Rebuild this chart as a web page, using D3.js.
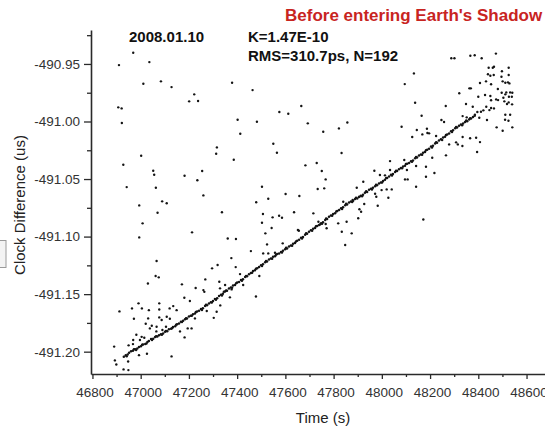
<!DOCTYPE html>
<html><head><meta charset="utf-8">
<script src="https://cdn.jsdelivr.net/npm/d3@7"></script>
<style>body{margin:0;background:#fff}svg{display:block}</style>
</head><body>
<svg id="c" width="545" height="427"></svg>
<script>
const titleText = "Before entering Earth's Shadow";
const dateText = "2008.01.10";
const kText = "K=1.47E-10";
const rmsText = "RMS=310.7ps, N=192";
const xLabel = "Time (s)";
const yLabel = "Clock Difference (us)";

const xTickValues = [46800,47000,47200,47400,47600,47800,48000,48200,48400,48600];
const xMinorValues = [46900,47100,47300,47500,47700,47900,48100,48300,48500,48700];
const yTickValues = [-491.20,-491.15,-491.10,-491.05,-491.00,-490.95];
const yMinorValues = [-491.175,-491.125,-491.075,-491.025,-490.975,-490.925];

// points lying on the dense drift line [time s, clock difference us]
const lineCluster = [
[46930,-491.2045],[46938,-491.2030],[46946,-491.2024],[46952,-491.2010],
[46960,-491.1997],[46968,-491.1993],[46977,-491.1979],[46986,-491.1972],[46993,-491.1960],
[47001,-491.1953],[47010,-491.1937],[47019,-491.1934],[47028,-491.1915],[47034,-491.1908],
[47043,-491.1890],[47052,-491.1887],[47060,-491.1873],[47069,-491.1868],[47076,-491.1857],
[47084,-491.1849],[47093,-491.1843],[47101,-491.1826],[47110,-491.1822],[47117,-491.1806],
[47126,-491.1800],[47134,-491.1785],[47143,-491.1780],[47151,-491.1762],[47159,-491.1755],
[47167,-491.1740],[47176,-491.1732],[47184,-491.1719],[47192,-491.1712],[47200,-491.1695],
[47208,-491.1688],[47217,-491.1674],[47225,-491.1668],[47234,-491.1652],[47242,-491.1645],
[47250,-491.1630],[47258,-491.1622],[47267,-491.1604],[47275,-491.1597],[47283,-491.1582],
[47291,-491.1570],[47300,-491.1560],[47308,-491.1543],[47317,-491.1535],[47325,-491.1517],
[47333,-491.1505],[47341,-491.1496],[47350,-491.1478],[47358,-491.1470],[47366,-491.1452],
[47374,-491.1443],[47383,-491.1425],[47391,-491.1420],[47400,-491.1400],[47408,-491.1395],
[47416,-491.1378],[47424,-491.1370],[47433,-491.1352],[47441,-491.1345],[47449,-491.1327],
[47457,-491.1316],[47466,-491.1300],[47474,-491.1292],[47483,-491.1275],[47491,-491.1265],
[47499,-491.1248],[47507,-491.1241],[47516,-491.1223],[47524,-491.1217],[47532,-491.1200],
[47540,-491.1190],[47549,-491.1176],[47557,-491.1170],[47566,-491.1152],[47574,-491.1147],
[47582,-491.1133],[47590,-491.1124],[47599,-491.1110],[47607,-491.1103],[47615,-491.1086],
[47623,-491.1078],[47632,-491.1062],[47640,-491.1055],[47649,-491.1037],[47657,-491.1028],
[47665,-491.1010],[47673,-491.1003],[47682,-491.0984],[47690,-491.0976],[47698,-491.0958],
[47706,-491.0946],[47715,-491.0933],[47723,-491.0926],[47732,-491.0908],[47740,-491.0899],
[47748,-491.0884],[47756,-491.0875],[47765,-491.0855],[47773,-491.0848],[47781,-491.0828],
[47789,-491.0817],[47798,-491.0803],[47806,-491.0797],[47815,-491.0778],[47823,-491.0770],
[47831,-491.0754],[47839,-491.0746],[47848,-491.0728],[47856,-491.0721],[47864,-491.0703],
[47872,-491.0695],[47881,-491.0688],[47889,-491.0673],[47898,-491.0669],[47905,-491.0655],
[47913,-491.0645],[47922,-491.0636],[47930,-491.0619],[47939,-491.0612],[47947,-491.0594],
[47955,-491.0585],[47963,-491.0576],[47972,-491.0562],[47980,-491.0553],[47988,-491.0539],
[47996,-491.0529],[48005,-491.0516],[48013,-491.0506],[48022,-491.0490],[48030,-491.0478],
[48038,-491.0463],[48046,-491.0456],[48055,-491.0439],[48063,-491.0431],[48071,-491.0414],
[48079,-491.0404],[48088,-491.0392],[48096,-491.0385],[48105,-491.0368],[48113,-491.0360],
[48121,-491.0345],[48129,-491.0338],[48138,-491.0320],[48146,-491.0313],[48154,-491.0296],
[48162,-491.0287],[48171,-491.0272],[48179,-491.0265],[48188,-491.0245],[48196,-491.0236],
[48204,-491.0218],[48212,-491.0210],[48221,-491.0191],[48229,-491.0184],[48237,-491.0165],
[48245,-491.0155],[48254,-491.0140],[48262,-491.0132],[48271,-491.0112],[48279,-491.0104],
[48287,-491.0085],[48295,-491.0077],[48304,-491.0059],[48312,-491.0052],[48320,-491.0036],
[48328,-491.0026],[48337,-491.0017],[48345,-491.0004],[48354,-490.9997],[48362,-490.9983],
[48370,-490.9975],[48378,-490.9962],[48385,-490.9950],
[46942,-491.2040],[46972,-491.1980],[46981,-491.1985],[47006,-491.1940],[47024,-491.1930],
[47047,-491.1898],[47064,-491.1865],[47088,-491.1853],[47105,-491.1820],[47130,-491.1797],
[47147,-491.1767],[47171,-491.1743],[47188,-491.1710],[47212,-491.1688],[47229,-491.1655],
[47254,-491.1637],[47271,-491.1592],[47295,-491.1572],[47312,-491.1549],[47337,-491.1512],
[47354,-491.1468],[47379,-491.1444],[47396,-491.1405],[47420,-491.1383],[47437,-491.1342],
[47462,-491.1315],[47478,-491.1280],[47503,-491.1255],[47520,-491.1212],[47545,-491.1192],
[47561,-491.1158],[47586,-491.1139],[47603,-491.1098],[47628,-491.1080],[47644,-491.1043],
[47669,-491.1017],[47686,-491.0972],[47711,-491.0950],[47727,-491.0911],[47752,-491.0889],
[47769,-491.0842],[47794,-491.0818],[47811,-491.0783],[47835,-491.0760],[47852,-491.0715],
[47877,-491.0700],[47893,-491.0662],[47918,-491.0650],[47935,-491.0607],[47959,-491.0590],
[47976,-491.0550],[48001,-491.0530],[48018,-491.0490],[48042,-491.0470],[48059,-491.0428],
[48084,-491.0406],[48100,-491.0370],[48125,-491.0350],[48142,-491.0308],[48167,-491.0290],
[48183,-491.0250],[48208,-491.0225],[48225,-491.0180],[48250,-491.0160],[48266,-491.0118],
[48291,-491.0092],[48308,-491.0048],[48333,-491.0032],[48350,-490.9992],[48366,-490.9972]
];

// scattered points away from the line
const outliers = [
[46969,-490.9403],[46910,-490.9510],[47036,-490.9484],[47011,-490.9672],[47084,-490.9651],
[47128,-490.9701],[47222,-490.9764],[47201,-490.9825],[47238,-490.9822],[47379,-490.9663],
[47464,-490.9727],[46907,-490.9877],[46921,-490.9886],[46922,-491.0013],[47402,-490.9985],
[47413,-491.0106],[47482,-491.0002],[47575,-490.9918],[47612,-490.9933],[47666,-490.9866],
[47693,-491.0016],[47550,-491.0193],[47565,-491.0272],[47316,-491.0225],[47313,-491.0280],
[47386,-491.0332],[47002,-491.0298],[46928,-491.0376],[47052,-491.0428],[47056,-491.0463],
[47182,-491.0471],[47255,-491.0430],[47235,-491.0511],[46942,-491.0570],[47063,-491.0576],
[47260,-491.0642],[47503,-491.0567],[47529,-491.0671],[47601,-491.0630],[47658,-491.0648],
[47683,-491.0381],[47730,-491.0361],[47734,-491.0587],[46994,-491.0729],[47089,-491.0694],
[47108,-491.0711],[47479,-491.0702],
[48288,-490.9451],[48301,-490.9451],[48367,-490.9429],[48385,-490.9425],[48414,-490.9451],
[48473,-490.9410],[48133,-490.9582],[48095,-490.9675],[48443,-490.9533],[48460,-490.9533],
[48465,-490.9524],[48498,-490.9564],[48526,-490.9533],[48440,-490.9590],[48450,-490.9603],
[48464,-490.9596],[48496,-490.9611],[48526,-490.9596],[48501,-490.9651],[48523,-490.9660],
[48529,-490.9669],[48512,-490.9663],[48407,-490.9666],[48432,-490.9651],[48453,-490.9677],
[48363,-490.9712],[48369,-490.9712],[48481,-490.9718],[48321,-490.9755],[48497,-490.9750],
[48516,-490.9747],[48532,-490.9747],[48541,-490.9750],[48512,-490.9764],[48400,-490.9785],
[48428,-490.9770],[48450,-490.9779],[48453,-490.9816],[48474,-490.9808],[48482,-490.9814],
[48504,-490.9794],[48527,-490.9785],[48539,-490.9785],[48508,-490.9825],[48526,-490.9834],
[48540,-490.9851],[48519,-490.9848],[48349,-490.9848],[48377,-490.9872],[48265,-490.9866],
[48433,-490.9872],[48453,-490.9883],[48465,-490.9886],[48446,-490.9901],[48421,-490.9903],
[48411,-490.9915],[48396,-490.9918],[48386,-490.9941],[48512,-490.9941],[48532,-490.9941],
[48335,-490.9953],[48352,-490.9964],[48404,-490.9967],[48436,-490.9987],[48511,-490.9985],
[48525,-490.9993],[48247,-490.9987],[48258,-491.0005],[48476,-491.0051],[48501,-491.0080],
[48541,-491.0051],[48187,-491.0063],[48168,-491.0112],[48189,-491.0100],[48335,-491.0135],
[48366,-491.0146],[48391,-491.0141],[48407,-491.0179],[48308,-491.0181],[48315,-491.0199],
[48334,-491.0213],[48395,-491.0265],[48266,-491.0294],[48209,-491.0315],[48138,-490.9837],
[48165,-490.9950],[48082,-491.0046],[48145,-491.0074],[48196,-491.0103],[48126,-491.0135],
[48225,-491.0126],[47833,-491.0274],[47757,-491.0089],[47822,-491.0060],[47857,-491.0009],
[47751,-491.0430],[47767,-491.0503],[47761,-491.0581],[48034,-491.0344],[47969,-491.0428],
[47992,-491.0465],[48013,-491.0468],[48096,-491.0503],[48107,-491.0503],[48183,-491.0480],
[48142,-491.0567],[47923,-491.0523],[47896,-491.0576],[47999,-491.0596],[48020,-491.0590],
[48041,-491.0590],[48027,-491.0663],[47907,-491.0654],[47927,-491.0717],[47983,-491.0732],
[47879,-491.0682],[47840,-491.0697],[47907,-491.0763],[47914,-491.0784],[47902,-491.0841],
[47854,-491.0871],[48172,-491.0852],[47716,-491.0798],[47737,-491.0871],[47744,-491.0894],
[47767,-491.0891],[47771,-491.0928],[47834,-491.0958],[47875,-491.0972],[47848,-491.1073],
[47819,-491.0885],[48142,-491.0387],[48183,-491.0393],[48104,-491.0422],[48218,-491.0448],
[47977,-491.0654],[48279,-491.0199],[47972,-491.0628],[48093,-491.0335],[48034,-491.0422],
[47070,-491.0793],[47337,-491.0789],[47008,-491.0885],[46994,-491.1007],[47213,-491.0963],
[47361,-491.1016],[47395,-491.1021],[47507,-491.0804],[47547,-491.0833],[47574,-491.0819],
[47586,-491.0836],[47636,-491.0789],[47503,-491.0880],[47517,-491.0972],[47543,-491.0926],
[47652,-491.0943],[47656,-491.0949],[47457,-491.1126],[47524,-491.1068],[47589,-491.1059],
[47066,-491.1212],[47376,-491.1187],[47319,-491.1247],[47296,-491.1276],[47394,-491.1265],
[47062,-491.1343],[47075,-491.1354],[47030,-491.1407],[47171,-491.1415],[47268,-491.1372],
[47492,-491.1343],[47326,-491.1393],[47350,-491.1421],[47228,-491.1447],[47264,-491.1480],
[47181,-491.1532],[47478,-491.1520],[47377,-491.1459],[47370,-491.1528],[46912,-491.1650],
[46991,-491.1580],[46964,-491.1624],[47005,-491.1624],[47034,-491.1639],[47077,-491.1580],
[47077,-491.1634],[47120,-491.1624],[47135,-491.1604],[46972,-491.1714],[47031,-491.1711],
[47077,-491.1702],[47121,-491.1714],[47274,-491.1647],[47303,-491.1706],[47315,-491.1653],
[47330,-491.1598],[47204,-491.1560],[47021,-491.1758],[47046,-491.1775],[47066,-491.1784],
[47163,-491.1824],[47195,-491.1798],[47182,-491.1876],[46982,-491.1853],[47004,-491.1871],
[47090,-491.1812],[47065,-491.1824],[46890,-491.1956],[46893,-491.2076],[46899,-491.2112],
[46950,-491.1945],[46968,-491.1934],[47026,-491.2018],[46948,-491.2086],[46993,-491.2030],
[47128,-491.2041],[46929,-491.2154],[46949,-491.2160],
[47529,-491.1146],[47557,-491.1141],[47508,-491.1146],[47425,-491.1421],[47412,-491.1326],
[47329,-491.1450],[47345,-491.1479],[47260,-491.1465],[46997,-491.1899],[47015,-491.1879],
[46969,-491.1899],[47038,-491.1798],[47087,-491.1725],[47105,-491.1784],[47108,-491.1696],
[47149,-491.1639],[47211,-491.1798],[47225,-491.1711]
];

const svg = d3.select("#c");
const FONT = "'Liberation Sans', Arial, Helvetica, sans-serif";

const x = d3.scaleLinear().domain([46794, 48740]).range([91, 560.3]);
const y = d3.scaleLinear().domain([-491.2194, -490.9205]).range([374, 30]);

// small UI fragment at the left edge
svg.append("rect").attr("x", -2).attr("y", 240.5).attr("width", 8).attr("height", 27)
  .attr("fill", "#f3f3f3").attr("stroke", "#9a9a9a").attr("stroke-width", 1);

// points
const dots = svg.append("g").attr("fill", "#141414");
dots.selectAll("circle.l").data(lineCluster).join("circle").attr("class","l")
  .attr("cx", d => x(d[0])).attr("cy", d => y(d[1])).attr("r", 1.25);
dots.selectAll("circle.o").data(outliers).join("circle").attr("class","o")
  .attr("cx", d => x(d[0])).attr("cy", d => y(d[1])).attr("r", 1.2);

// x axis
const gx = svg.append("g").attr("transform", "translate(0,374)");
gx.call(d3.axisBottom(x).tickValues(xTickValues).tickSize(5).tickSizeOuter(0)
  .tickPadding(8).tickFormat(d3.format("d")));
const gxm = svg.append("g").attr("transform", "translate(0,374)");
gxm.call(d3.axisBottom(x).tickValues(xMinorValues).tickSize(3).tickSizeOuter(0).tickFormat(""));
gxm.select(".domain").remove();

// y axis
const gy = svg.append("g").attr("transform", "translate(91,0)");
gy.call(d3.axisLeft(y).tickValues(yTickValues).tickSize(7).tickSizeOuter(0)
  .tickPadding(4).tickFormat(d => d.toFixed(2)));
const gym = svg.append("g").attr("transform", "translate(91,0)");
gym.call(d3.axisLeft(y).tickValues(yMinorValues).tickSize(4).tickSizeOuter(0).tickFormat(""));
gym.select(".domain").remove();

svg.selectAll(".domain").attr("stroke", "#2a2a2a").attr("stroke-width", 1.6);
svg.selectAll(".tick line").attr("stroke", "#2a2a2a").attr("stroke-width", 1.3);
svg.selectAll(".tick text").attr("font-family", FONT).attr("font-size", 13.5).attr("fill", "#333");
gx.selectAll(".tick text").attr("dx", 2);

// axis titles
svg.append("text").attr("x", 323).attr("y", 423).attr("text-anchor", "middle")
  .attr("font-family", FONT).attr("font-size", 15).attr("fill", "#222").text(xLabel);
svg.append("text").attr("transform", "translate(24.5,205) rotate(-90)").attr("text-anchor", "middle")
  .attr("font-family", FONT).attr("font-size", 15).attr("fill", "#222").text(yLabel);

// annotations
svg.append("text").attr("x", 285).attr("y", 21).attr("font-family", FONT).attr("font-weight", "bold")
  .attr("font-size", 17).attr("fill", "#c8241f").text(titleText);
svg.append("text").attr("x", 129).attr("y", 42).attr("font-family", FONT).attr("font-weight", "bold")
  .attr("font-size", 15).attr("fill", "#111").text(dateText);
svg.append("text").attr("x", 248).attr("y", 42).attr("font-family", FONT).attr("font-weight", "bold")
  .attr("font-size", 15).attr("fill", "#111").text(kText);
svg.append("text").attr("x", 248).attr("y", 61).attr("font-family", FONT).attr("font-weight", "bold")
  .attr("font-size", 15).attr("fill", "#111").text(rmsText);
</script>
</body></html>
